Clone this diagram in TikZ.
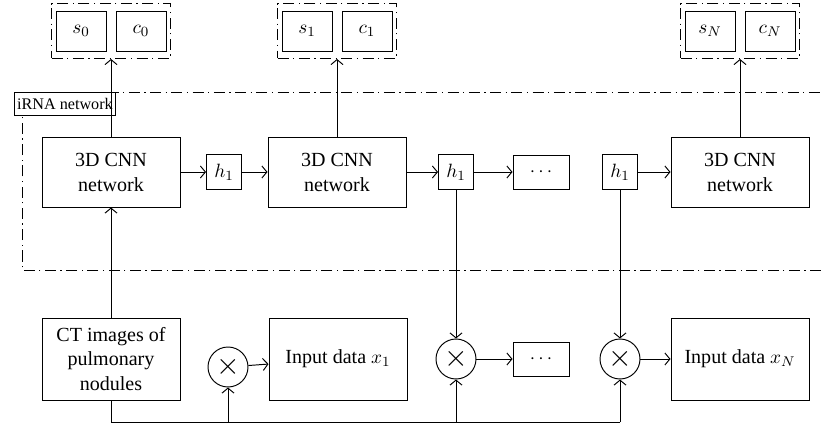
\documentclass[tikz,border=0pt]{standalone}
\usepackage{fontspec}
\setmainfont{Liberation Serif}
\usetikzlibrary{arrows.meta,fit}

\begin{document}
\begin{tikzpicture}[x=0.2mm, y=-0.2mm, line width=0.55pt,
  every node/.style={font=\fontsize{11.4}{14.2}\selectfont},
  >={Straight Barb[length=1mm,width=2.4mm]},
  dashline/.style={dash pattern=on 2.2mm off 0.9mm on 0.25mm off 0.9mm},
  netbox/.style={draw, align=center, minimum width=27.6mm, minimum height=14mm},
  databox/.style={draw, align=center, minimum width=27.6mm, minimum height=16.4mm},
  hbox/.style={draw, minimum size=7mm, inner sep=0pt},
  dotbox/.style={draw, minimum width=11.2mm, minimum height=6.8mm},
  outbox/.style={draw, minimum width=10mm, minimum height=8mm},
  multnode/.style={draw, circle, minimum size=8mm, inner sep=0pt, font=\fontsize{17}{20}\selectfont},
  outgroup/.style={draw, dashline, inner xsep=0.8mm, inner ysep=1.4mm}]
  \useasboundingbox (0,0) rectangle (821,426);

  % iRNA region
  \draw[dashline] (821,270) -- (22,270) -- (22,92) -- (821,92);
  \node[draw, fill=white, anchor=north west, inner sep=1.5pt, minimum height=4.6mm,
        font=\fontsize{9.2}{11}\selectfont] (irna) at (14,92) {iRNA network};

  % outputs
  \node[outbox] (s0) at (81,31) {$s_0$};
  \node[outbox] (c0) at (141,31) {$c_0$};
  \node[outgroup, fit=(s0)(c0)] (g0) {};
  \node[outbox] (s1) at (307,31) {$s_1$};
  \node[outbox] (c1) at (367,31) {$c_1$};
  \node[outgroup, fit=(s1)(c1)] (g1) {};
  \node[outbox] (sN) at (710,31) {$s_N$};
  \node[outbox] (cN) at (770,31) {$c_N$};
  \node[outgroup, fit=(sN)(cN)] (gN) {};

  % network row
  \node[netbox] (cnn1) at (111,172) {3D CNN\\network};
  \node[hbox] (ha) at (224,172) {$h_1$};
  \node[netbox] (cnn2) at (337,172) {3D CNN\\network};
  \node[hbox] (hb) at (456,172) {$h_1$};
  \node[dotbox] (dotsa) at (541,172) {$\cdots$};
  \node[hbox] (hc) at (620,172) {$h_1$};
  \node[netbox] (cnn3) at (740,172) {3D CNN\\network};

  % input row
  \node[databox] (ct) at (111,359) {CT images of\\pulmonary\\nodules};
  \node[multnode] (ma) at (228,367) {$\times$};
  \node[databox] (in1) at (338,359) {Input data $x_1$};
  \node[multnode] (mb) at (456,359) {$\times$};
  \node[dotbox] (dotsb) at (541,359) {$\cdots$};
  \node[multnode] (mc) at (620,359) {$\times$};
  \node[databox] (inN) at (740,359) {Input data $x_N$};
  \coordinate (bus) at (0,422);

  \draw[->] (cnn1) -- (g0);
  \draw[->] (cnn2) -- (g1);
  \draw[->] (cnn3) -- (gN);
  \draw[->] (cnn1) -- (ha);
  \draw[->] (ha) -- (cnn2);
  \draw[->] (cnn2) -- (hb);
  \draw[->] (hb) -- (dotsa);
  \draw[->] (hc) -- (cnn3);
  \draw[->] (ct) -- (cnn1);
  \draw[->] (hb) -- (mb);
  \draw[->] (hc) -- (mc);
  \draw[->] (ma) -- (in1);
  \draw[->] (mb) -- (dotsb);
  \draw[->] (mc) -- (inN);
  \draw (ct) -- (ct |- bus) -- (mc |- bus);
  \foreach \m in {ma,mb,mc}
    \draw[->] (\m |- bus) -- (\m);
\end{tikzpicture}
\end{document}
